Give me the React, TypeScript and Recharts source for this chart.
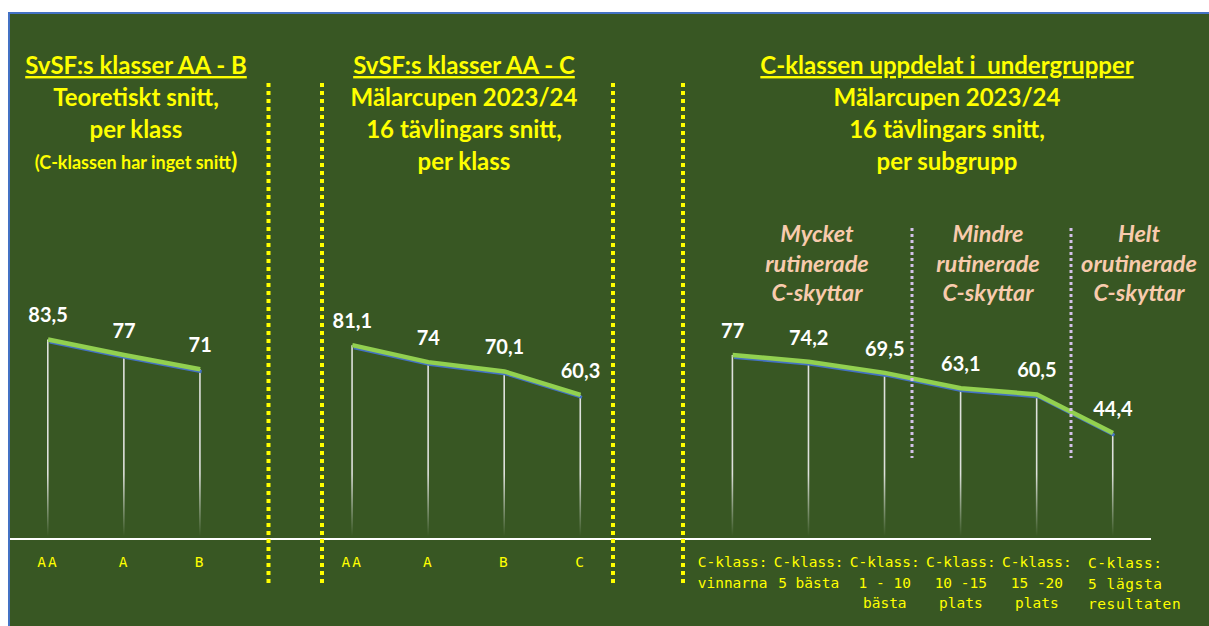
import { ComposedChart, Line, Bar, XAxis, YAxis, LabelList } from 'recharts';

// categories, blanks are the gaps between the three groups
const categories = [
    'AA', 'A', 'B', '',
    'AA', 'A', 'B', 'C', '',
    'C-klass:\nvinnarna', 'C-klass:\n5 bästa', 'C-klass:\n1 - 10\nbästa',
    'C-klass:\n10 -15\nplats', 'C-klass:\n15 -20\nplats', 'C-klass:\n5 lägsta\nresultaten',
];
const snitt = [83.5, 77, 71, null, 81.1, 74, 70.1, 60.3, null, 77, 74.2, 69.5, 63.1, 60.5, 44.4];

const groupTitles = [
    ['SvSF:s klasser AA - B', 'Teoretiskt snitt,', 'per klass'],
    ['SvSF:s klasser AA - C', 'Mälarcupen 2023/24', '16 tävlingars snitt,', 'per klass'],
    ['C-klassen uppdelat i  undergrupper', 'Mälarcupen 2023/24', '16 tävlingars snitt,', 'per subgrupp'],
];
const subgroupTitles = [
    ['Mycket', 'rutinerade', 'C-skyttar'],
    ['Mindre', 'rutinerade', 'C-skyttar'],
    ['Helt', 'orutinerade', 'C-skyttar'],
];

const data = categories.map((c, i) => ({ name: c, value: snitt[i] }));

const W = 1199;
const H = 612;
const BG = '#385723';
const YELLOW = '#FFFF00';
const FONT = "Lato, 'Open Sans', sans-serif";
const MONO = "'DejaVu Sans Mono', monospace";

const fmt = (v: any) => (v == null ? '' : String(v).replace('.', ','));

function Tick(props: any) {
    const { x, y, payload } = props;
    const lines = String(payload.value).split('\n');
    const last = payload.index === categories.length - 1;
    const short = lines.length === 1;
    return (
        <text x={x} y={y} fill={YELLOW} fontFamily={MONO} fontSize={14.5} textAnchor={last ? 'start' : 'middle'}
            letterSpacing={last ? 0.6 : short ? 2 : 0}>
            {lines.map((l, i) => (
                <tspan key={i} x={last ? x - 25 : x} dy={i === 0 ? (last ? 29 : 28) : 20.5}>{l}</tspan>
            ))}
        </text>
    );
}

export default function App() {
    const titleX = [126, 454, 937];
    const subX = [807, 978, 1129];
    return (
        <>
            <style>{'body{margin:0;overflow:hidden;background:#fff}'}</style>
            <div style={{
                position: 'absolute', left: 8, top: 12, width: W + 2, height: H + 2, boxSizing: 'border-box',
                borderTop: '2px solid #4472C4', borderLeft: '2px solid #4472C4', background: BG,
            }}>
                <div style={{ position: 'relative', width: W, height: H }}>
                    <ComposedChart width={W} height={H} data={data} margin={{ top: 286, right: 58, left: 0, bottom: 0 }}>
                        <defs>
                            <linearGradient id="drop" x1="0" y1="460" x2="0" y2="522" gradientUnits="userSpaceOnUse">
                                <stop offset="0" stopColor="#F0F0F0" stopOpacity={0.9} />
                                <stop offset="1" stopColor="#F0F0F0" stopOpacity={0} />
                            </linearGradient>
                        </defs>
                        <XAxis dataKey="name" interval={0} axisLine={{ stroke: '#FFFFFF', strokeWidth: 2 }} tickLine={false}
                            tickSize={0} tickMargin={0} height={87} tick={<Tick />} />
                        <YAxis hide domain={[0, 100]} />
                        <Bar dataKey="value" barSize={1.6} fill="url(#drop)" isAnimationActive={false} />
                        <Line dataKey="value" type="linear" stroke="#4472C4" strokeWidth={3} dot={false}
                            style={{ transform: 'translate(1.5px, 2.5px)' }} isAnimationActive={false} />
                        <Line dataKey="value" type="linear" stroke="#92D050" strokeWidth={4.5} dot={false} isAnimationActive={false}>
                            <LabelList dataKey="value" position="top" offset={17} formatter={fmt} fill="#FFFFFF"
                                fontSize={20} fontWeight={700} fontFamily={FONT} />
                        </Line>
                    </ComposedChart>
                    <svg width={W} height={H} style={{ position: 'absolute', left: 0, top: 0, pointerEvents: 'none' }}>
                        {/* group separators */}
                        {[258.5, 312, 603, 673].map((x, i) => (
                            <line key={i} x1={x} y1={69} x2={x} y2={570} stroke={YELLOW} strokeWidth={4} strokeDasharray="4 4" />
                        ))}
                        {[902, 1061].map((x, i) => (
                            <line key={i} x1={x} y1={214} x2={x} y2={444} stroke="#D4C2EA" strokeWidth={3} strokeDasharray="3 3" />
                        ))}
                        {/* titles */}
                        {groupTitles.map((g, gi) => (
                            <g key={gi} fill={YELLOW} fontFamily={FONT} fontWeight={700} fontSize={24} textAnchor="middle">
                                {g.map((t, i) => (
                                    <text key={i} x={titleX[gi]} y={60 + i * 32}
                                        style={{ textDecoration: i === 0 ? 'underline' : 'none', whiteSpace: 'pre' }}>{t}</text>
                                ))}
                            </g>
                        ))}
                        <text x={126} y={155} fill={YELLOW} fontFamily={FONT} fontWeight={700} fontSize={18} textAnchor="middle">
                            (C-klassen har inget snitt<tspan fontSize={23}>)</tspan>
                        </text>
                        {subgroupTitles.map((g, gi) => (
                            <g key={gi} fill="#F8CBAD" fontFamily={FONT} fontWeight={700} fontStyle="italic" fontSize={23.5} textAnchor="middle">
                                {g.map((t, i) => (
                                    <text key={i} x={subX[gi]} y={228 + i * 29.5}>{t}</text>
                                ))}
                            </g>
                        ))}
                    </svg>
                </div>
            </div>
        </>
    );
}
